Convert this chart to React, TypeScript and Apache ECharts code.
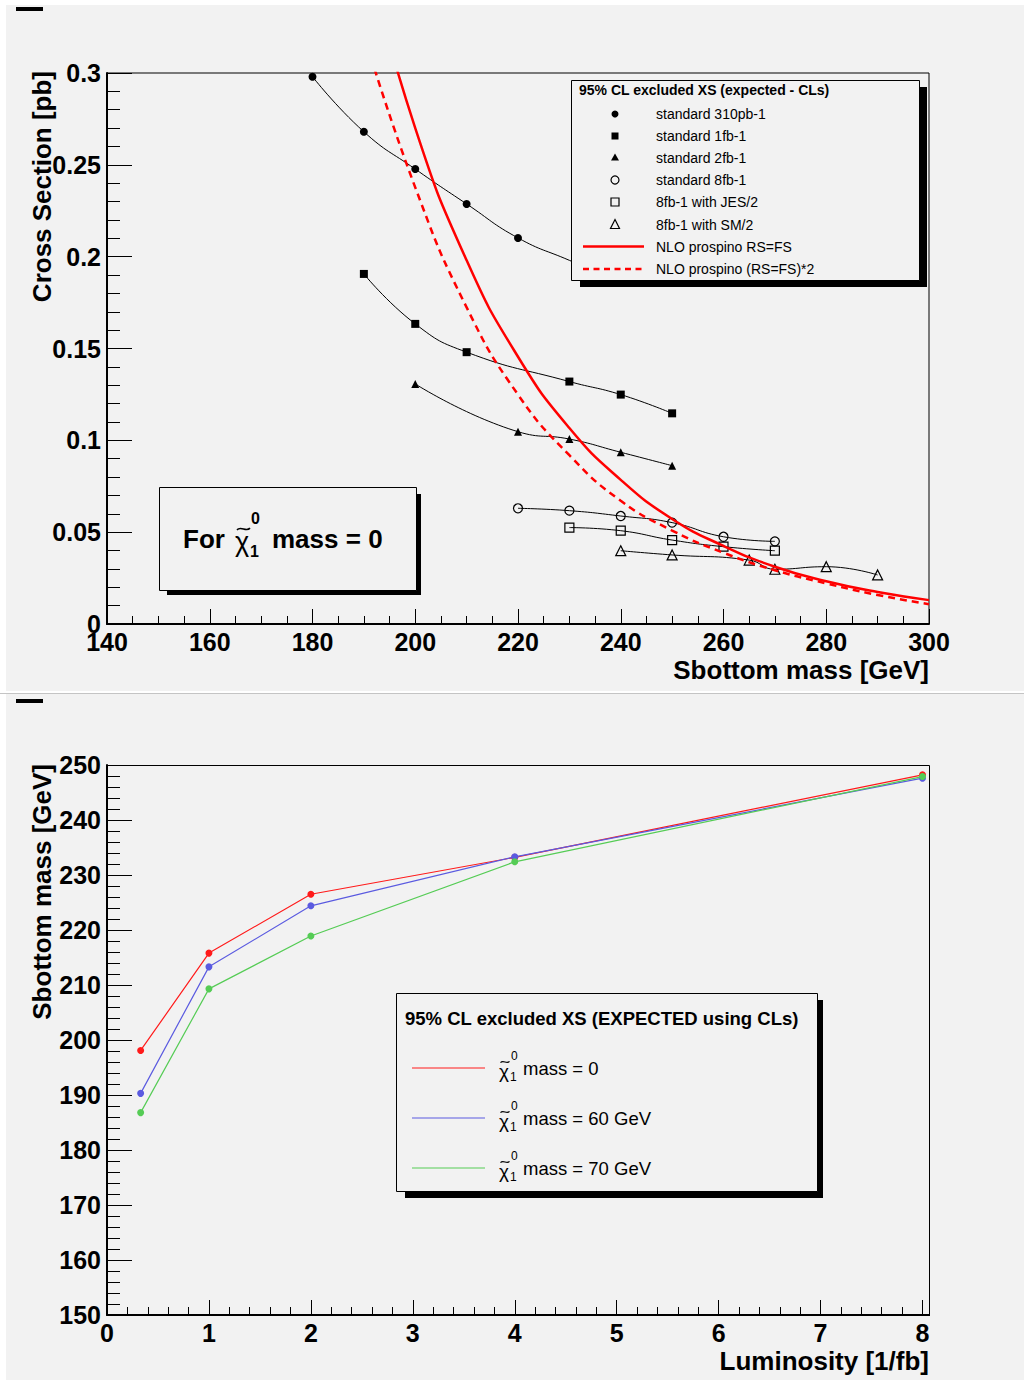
import React, { useEffect, useRef } from 'react';
import * as echarts from 'echarts';

// ---------- data (top panel) ----------
const std310X = [180, 190, 200, 210, 220, 230, 240];
const std310Y = [0.298, 0.268, 0.2477, 0.2287, 0.2102, 0.198, 0.186];
const std310Hidden = [false, false, false, false, false, true, true];

const std1fbX = [190, 200, 210, 230, 240, 250];
const std1fbY = [0.1906, 0.1634, 0.148, 0.132, 0.1249, 0.1147];

const std2fbX = [200, 220, 230, 240, 250];
const std2fbY = [0.1307, 0.1047, 0.1007, 0.0935, 0.0862];

const std8fbX = [220, 230, 240, 250, 260, 270];
const std8fbY = [0.063, 0.0617, 0.0588, 0.0552, 0.0475, 0.045];

const jesX = [230, 240, 250, 260, 270];
const jesY = [0.0525, 0.0508, 0.0457, 0.0421, 0.0399];

const smX = [240, 250, 265, 270, 280, 290];
const smY = [0.0399, 0.0376, 0.0348, 0.0298, 0.0312, 0.0267];

const prospinoX = [190, 200, 210, 220, 230, 240, 250, 260, 270, 280, 290, 300];
const prospinoY = [0.368, 0.27, 0.198, 0.1455, 0.1067, 0.0785, 0.0572, 0.0425, 0.0312, 0.0233, 0.0174, 0.013];
const prospino2Y = [0.321, 0.2377, 0.1724, 0.1249, 0.0919, 0.0671, 0.0509, 0.0388, 0.0293, 0.0221, 0.0158, 0.0108];

const topLegendTitle = '95% CL excluded XS (expected - CLs)';
const topLegendLabels = [
  'standard 310pb-1',
  'standard 1fb-1',
  'standard 2fb-1',
  'standard 8fb-1',
  '8fb-1 with JES/2',
  '8fb-1 with SM/2',
  'NLO prospino RS=FS',
  'NLO prospino (RS=FS)*2',
];

// ---------- data (bottom panel) ----------
const lumiX = [0.33, 1, 2, 4, 8];
const mass0Y = [198.1, 215.8, 226.5, 233.2, 248.2];
const mass60Y = [190.3, 213.3, 224.4, 233.3, 247.6];
const mass70Y = [186.8, 209.3, 218.9, 232.4, 247.9];
const bottomLegendTitle = '95% CL excluded XS (EXPECTED using CLs)';
const bottomLegendLabels = ['mass = 0', 'mass = 60 GeV', 'mass = 70 GeV'];
const bottomColors = ['#ff1a1a', '#5a5ae0', '#55cc55'];

const FONT = '"Liberation Sans", Arial, Helvetica, sans-serif';

const pairs = (xs: number[], ys: number[]) => xs.map((x, i) => [x, ys[i]]);

function txt(text: string, x: number, y: number, size: number, bold: boolean, align = 'left', vAlign = 'middle', extra: any = {}) {
  return {
    type: 'text',
    x,
    y,
    z: 100,
    ...extra,
    style: {
      text,
      fontSize: size,
      fontWeight: bold ? 'bold' : 'normal',
      fontFamily: FONT,
      fill: '#000',
      align,
      verticalAlign: vAlign,
    },
  };
}

function tilde(x0: number, x1: number, y: number, amp: number, lw: number) {
  const w = x1 - x0;
  return {
    type: 'bezierCurve',
    z: 100,
    shape: {
      x1: x0, y1: y + amp * 0.4,
      cpx1: x0 + w * 0.3, cpy1: y - amp * 1.6,
      cpx2: x0 + w * 0.7, cpy2: y + amp * 1.6,
      x2: x1, y2: y - amp * 0.4,
    },
    style: { stroke: '#000', lineWidth: lw, fill: 'none' },
  };
}

const axisLabelStyle = {
  color: '#000',
  fontFamily: FONT,
  fontWeight: 'bold',
  fontSize: 25,
};

export default function App() {
  const ref = useRef<HTMLDivElement>(null);

  useEffect(() => {
    if (!ref.current) return;
    const chart = echarts.init(ref.current, null, { renderer: 'svg' });

    const blackLine = (name: string, xs: number[], ys: number[], symbol: string, size: number, open: boolean, hidden?: boolean[]) => ({
      name,
      type: 'line',
      xAxisIndex: 0,
      yAxisIndex: 0,
      smooth: true,
      symbol,
      symbolSize: size,
      data: xs.map((x, i) =>
        hidden && hidden[i] ? { value: [x, ys[i]], symbol: 'none' } : { value: [x, ys[i]] }
      ),
      lineStyle: { color: '#000', width: 1 },
      itemStyle: open
        ? { color: 'rgba(0,0,0,0)', borderColor: '#000', borderWidth: 1.2 }
        : { color: '#000' },
      z: 3,
      emphasis: { disabled: true },
    });

    const topRows = [114, 136, 157.5, 180, 202, 224.5, 246.5, 269];
    const mx = 615;

    const graphics: any[] = [
      // corner marks
      { type: 'rect', z: 100, shape: { x: 16, y: 7, width: 27, height: 4 }, style: { fill: '#000' } },
      { type: 'rect', z: 100, shape: { x: 16, y: 699, width: 27, height: 4 }, style: { fill: '#000' } },
      // top axis titles
      txt('Cross Section [pb]', 42, 71, 26, true, 'right', 'middle', { rotation: Math.PI / 2 }),
      txt('Sbottom mass [GeV]', 929, 670, 26, true, 'right', 'middle'),
      // top legend
      { type: 'rect', z: 100, shape: { x: 580, y: 87, width: 347, height: 200 }, style: { fill: '#000' } },
      { type: 'rect', z: 100, shape: { x: 571.5, y: 80.5, width: 348, height: 200 }, style: { fill: '#f2f2f2', stroke: '#000', lineWidth: 1 } },
      txt(topLegendTitle, 579, 90, 14, true),
      ...topLegendLabels.map((l, i) => txt(l, 656, topRows[i], 14, false)),
      { type: 'circle', z: 100, shape: { cx: mx, cy: topRows[0], r: 3.5 }, style: { fill: '#000' } },
      { type: 'rect', z: 100, shape: { x: mx - 3.5, y: topRows[1] - 3.5, width: 7, height: 7 }, style: { fill: '#000' } },
      { type: 'polygon', z: 100, shape: { points: [[mx, topRows[2] - 4], [mx + 4, topRows[2] + 3], [mx - 4, topRows[2] + 3]] }, style: { fill: '#000' } },
      { type: 'circle', z: 100, shape: { cx: mx, cy: topRows[3], r: 4 }, style: { fill: 'none', stroke: '#000', lineWidth: 1.2 } },
      { type: 'rect', z: 100, shape: { x: mx - 4, y: topRows[4] - 4, width: 8, height: 8 }, style: { fill: 'none', stroke: '#000', lineWidth: 1.2 } },
      { type: 'polygon', z: 100, shape: { points: [[mx, topRows[5] - 5], [mx + 4.5, topRows[5] + 4], [mx - 4.5, topRows[5] + 4]] }, style: { fill: 'none', stroke: '#000', lineWidth: 1.2 } },
      { type: 'line', z: 100, shape: { x1: 583, y1: topRows[6], x2: 644, y2: topRows[6] }, style: { stroke: '#ff0000', lineWidth: 2.5 } },
      { type: 'line', z: 100, shape: { x1: 583, y1: topRows[7], x2: 644, y2: topRows[7] }, style: { stroke: '#ff0000', lineWidth: 2.5, lineDash: [6, 4.5] } },
      // "For chi mass = 0" box
      { type: 'rect', z: 100, shape: { x: 167, y: 494, width: 254, height: 101 }, style: { fill: '#000' } },
      { type: 'rect', z: 100, shape: { x: 159.5, y: 487.5, width: 257, height: 103 }, style: { fill: '#f2f2f2', stroke: '#000', lineWidth: 1 } },
      txt('For', 183, 539, 26, true),
      txt('\u03c7', 235, 542, 27, false),
      tilde(237, 250, 529, 2.2, 1.6),
      txt('0', 251, 518, 16, true),
      txt('1', 250, 551, 16, true),
      txt('mass = 0', 272, 539, 26, true),
      // bottom axis titles
      txt('Sbottom mass [GeV]', 42, 764, 26, true, 'right', 'middle', { rotation: Math.PI / 2 }),
      txt('Luminosity [1/fb]', 929, 1361, 26, true, 'right', 'middle'),
      // bottom frame (top/right) + axis extension
      { type: 'polyline', z: 50, shape: { points: [[107, 765.5], [929.5, 765.5], [929.5, 1315]] }, style: { stroke: '#000', lineWidth: 1, fill: 'none' } },
      { type: 'line', z: 50, shape: { x1: 922, y1: 1315, x2: 930, y2: 1315 }, style: { stroke: '#000', lineWidth: 2 } },
      // bottom legend
      { type: 'rect', z: 100, shape: { x: 405, y: 1000, width: 418, height: 198 }, style: { fill: '#000' } },
      { type: 'rect', z: 100, shape: { x: 396.5, y: 993.5, width: 421, height: 198 }, style: { fill: '#f2f2f2', stroke: '#000', lineWidth: 1 } },
      txt(bottomLegendTitle, 405, 1018, 18.5, true),
    ];

    bottomLegendLabels.forEach((l, i) => {
      const y = 1068 + i * 50;
      graphics.push({ type: 'line', z: 100, shape: { x1: 412, y1: y, x2: 485, y2: y }, style: { stroke: bottomColors[i], lineWidth: 1.2 } });
      graphics.push(txt('\u03c7', 499, y + 3, 19, false));
      graphics.push(tilde(500.5, 509.5, y - 6, 1.6, 1.1));
      graphics.push(txt('0', 511, y - 12, 12, false));
      graphics.push(txt('1', 510, y + 9, 12, false));
      graphics.push(txt(l, 523, y, 18.5, false));
    });

    const option: any = {
      animation: false,
      grid: [
        { left: 107, top: 73, width: 822, height: 551, show: true, borderColor: '#000', borderWidth: 1, backgroundColor: 'transparent' },
        { left: 107, top: 765, width: 815.5, height: 550, show: false },
      ],
      xAxis: [
        {
          type: 'value', gridIndex: 0, min: 140, max: 300, interval: 20,
          axisLine: { show: true, onZero: false, lineStyle: { color: '#000', width: 2 } },
          axisTick: { show: true, inside: true, length: 15, lineStyle: { color: '#000', width: 1 } },
          minorTick: { show: true, splitNumber: 4, length: 8, lineStyle: { color: '#000', width: 1 } },
          splitLine: { show: false },
          axisLabel: { ...axisLabelStyle, margin: 5 },
        },
        {
          type: 'value', gridIndex: 1, min: 0, max: 8, interval: 1,
          axisLine: { show: true, onZero: false, lineStyle: { color: '#000', width: 2 } },
          axisTick: { show: true, inside: true, length: 15, lineStyle: { color: '#000', width: 1 } },
          minorTick: { show: true, splitNumber: 5, length: 8, lineStyle: { color: '#000', width: 1 } },
          splitLine: { show: false },
          axisLabel: { ...axisLabelStyle, margin: 5 },
        },
      ],
      yAxis: [
        {
          type: 'value', gridIndex: 0, min: 0, max: 0.3, interval: 0.05,
          axisLine: { show: true, onZero: false, lineStyle: { color: '#000', width: 2 } },
          axisTick: { show: true, inside: true, length: 25, lineStyle: { color: '#000', width: 1 } },
          minorTick: { show: true, splitNumber: 5, length: 13, lineStyle: { color: '#000', width: 1 } },
          splitLine: { show: false },
          axisLabel: { ...axisLabelStyle, margin: 6, formatter: (v: number) => (v === 0 ? '0' : String(+v.toFixed(2))) },
        },
        {
          type: 'value', gridIndex: 1, min: 150, max: 250, interval: 10,
          axisLine: { show: true, onZero: false, lineStyle: { color: '#000', width: 2 } },
          axisTick: { show: true, inside: true, length: 25, lineStyle: { color: '#000', width: 1 } },
          minorTick: { show: true, splitNumber: 5, length: 13, lineStyle: { color: '#000', width: 1 } },
          splitLine: { show: false },
          axisLabel: { ...axisLabelStyle, margin: 6 },
        },
      ],
      series: [
        blackLine('standard 310pb-1', std310X, std310Y, 'circle', 8, false, std310Hidden),
        blackLine('standard 1fb-1', std1fbX, std1fbY, 'rect', 8, false),
        blackLine('standard 2fb-1', std2fbX, std2fbY, 'triangle', 8, false),
        blackLine('standard 8fb-1', std8fbX, std8fbY, 'circle', 9, true),
        blackLine('8fb-1 with JES/2', jesX, jesY, 'rect', 9, true),
        blackLine('8fb-1 with SM/2', smX, smY, 'triangle', 10, true),
        {
          name: 'NLO prospino RS=FS', type: 'line', xAxisIndex: 0, yAxisIndex: 0, smooth: 0.5, symbol: 'none',
          data: pairs(prospinoX, prospinoY), lineStyle: { color: '#ff0000', width: 2.5 }, z: 4,
        },
        {
          name: 'NLO prospino (RS=FS)*2', type: 'line', xAxisIndex: 0, yAxisIndex: 0, smooth: 0.5, symbol: 'none',
          data: pairs(prospinoX, prospino2Y), lineStyle: { color: '#ff0000', width: 2.5, type: [7, 5] }, z: 4,
        },
        ...[mass0Y, mass60Y, mass70Y].map((ys, i) => ({
          name: bottomLegendLabels[i], type: 'line', xAxisIndex: 1, yAxisIndex: 1, symbol: 'circle', symbolSize: 7,
          data: pairs(lumiX, ys), lineStyle: { color: bottomColors[i], width: 1.2 }, itemStyle: { color: bottomColors[i] }, z: 3 + i,
        })),
      ],
      graphic: graphics,
    };

    chart.setOption(option);
    return () => chart.dispose();
  }, []);

  return (
    <div style={{ position: 'absolute', left: 0, top: 0, width: 1024, height: 1380, background: '#fff' }}>
      <div style={{ position: 'absolute', left: 6, top: 5, width: 1018, height: 686, background: '#f2f2f2' }} />
      <div style={{ position: 'absolute', left: 0, top: 693, width: 1024, height: 1, background: '#c4c4c4' }} />
      <div style={{ position: 'absolute', left: 6, top: 694, width: 1018, height: 686, background: '#f2f2f2' }} />
      <div ref={ref} style={{ position: 'absolute', left: 0, top: 0, width: 1024, height: 1380 }} />
    </div>
  );
}
